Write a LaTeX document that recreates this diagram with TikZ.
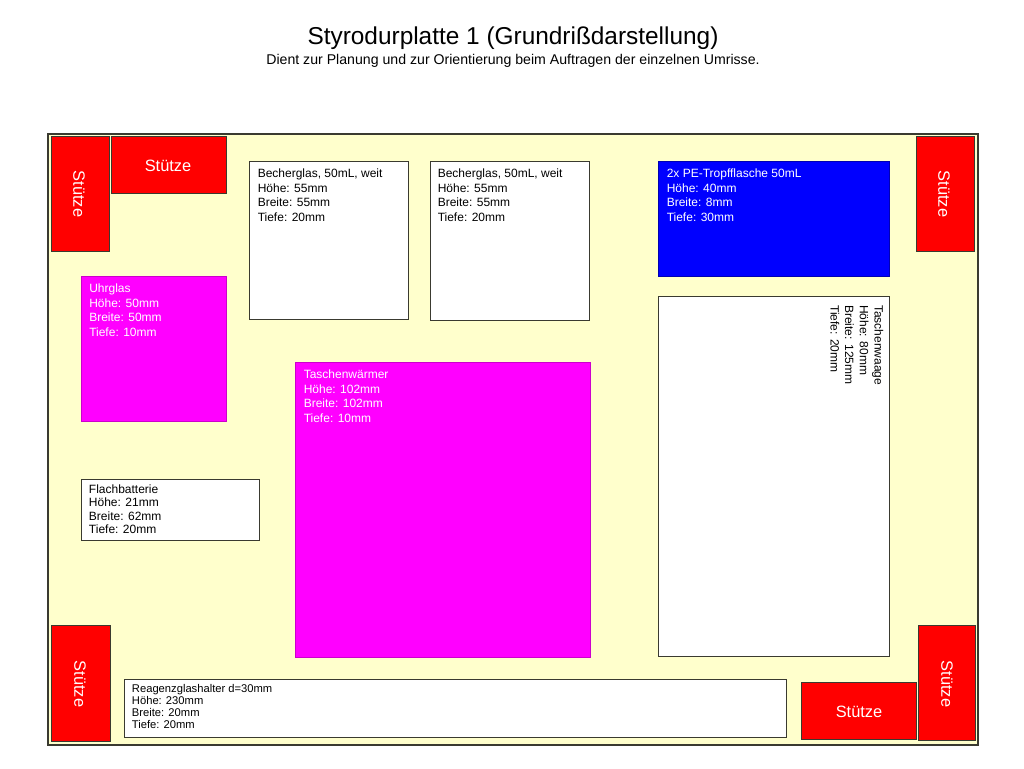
\documentclass[tikz,border=0pt]{standalone}
\usepackage{fontspec}
\setmainfont{Liberation Sans}
\definecolor{plattegelb}{HTML}{FFFFCC}
\definecolor{randgrau}{HTML}{3A3A30}
\definecolor{lilafarbe}{HTML}{FF00FF}
\tikzset{
 platte/.style={draw=randgrau,line width=0.8pt,fill=plattegelb},
 stuetze/.style={draw=randgrau,line width=0.7pt,fill=red},
 weiss/.style={draw=randgrau,line width=0.7pt,fill=white},
 lila/.style={draw=lilafarbe!80!black,line width=0.6pt,fill=lilafarbe},
 blau/.style={draw=blue!70!black,line width=0.6pt,fill=blue},
 stext/.style={text=white,font=\fontsize{12.3}{14}\selectfont},
 info/.style={anchor=north west,inner sep=0pt,align=left,font=\fontsize{9}{11}\selectfont},
 infoklein/.style={anchor=north west,inner sep=0pt,align=left,font=\fontsize{8.4}{9.1}\selectfont}
}
\begin{document}
\begin{tikzpicture}[x=0.75pt,y=-0.75pt]
 \useasboundingbox (0,0) rectangle (1024,768);
 \node[font=\fontsize{18.3}{21}\selectfont] (titel) at (513,38.5) {Styrodurplatte 1 (Grundrißdarstellung)};
 \node[font=\fontsize{10.6}{12}\selectfont] (untertitel) at (513,60.5) {Dient zur Planung und zur Orientierung beim Auftragen der einzelnen Umrisse.};
 \draw[platte] (48,134) rectangle (978,745);
 % stuetzen
 \draw[stuetze] (51,136) rectangle (109,251);
 \node[stext,rotate=-90] (st1) at (79,194) {Stütze};
 \draw[stuetze] (111,136) rectangle (226,193.5);
 \node[stext] (st2) at (168,165.5) {Stütze};
 \draw[stuetze] (916,136) rectangle (974,251);
 \node[stext,rotate=-90] (st3) at (944,194) {Stütze};
 \draw[stuetze] (51.7,625.5) rectangle (110,741);
 \node[stext,rotate=-90] (st4) at (80,684) {Stütze};
 \draw[stuetze] (801.3,682) rectangle (916.7,739.5);
 \node[stext] (st5) at (859,712) {Stütze};
 \draw[stuetze] (918,625) rectangle (975.7,740.5);
 \node[stext,rotate=-90] (st6) at (947,684) {Stütze};
 % gefaesse
 \draw[weiss] (249.7,161) rectangle (408,319.7);
 \node[info] (becher1) at (257.5,168.5) {Becherglas, 50mL, weit\\Höhe: 55mm\\Breite: 55mm\\Tiefe: 20mm};
 \draw[weiss] (430,161.5) rectangle (589,320);
 \node[info] (becher2) at (437.5,168.5) {Becherglas, 50mL, weit\\Höhe: 55mm\\Breite: 55mm\\Tiefe: 20mm};
 \draw[blau] (658.7,161) rectangle (889,276.7);
 \node[info,text=white] (tropf) at (666.5,168.5) {2x PE-Tropfflasche 50mL\\Höhe: 40mm\\Breite: 8mm\\Tiefe: 30mm};
 \draw[weiss] (658.7,296.7) rectangle (889,656.5);
 \node[info,rotate=-90] (waage) at (883.5,305) {Taschenwaage\\Höhe: 80mm\\Breite: 125mm\\Tiefe: 20mm};
 \draw[lila] (81.3,276.7) rectangle (226.7,421.5);
 \node[info,text=white] (uhrglas) at (89,283.5) {Uhrglas\\Höhe: 50mm\\Breite: 50mm\\Tiefe: 10mm};
 \draw[lila] (295.5,362.3) rectangle (590.5,657);
 \node[info,text=white] (waermer) at (303.5,369.5) {Taschenwärmer\\Höhe: 102mm\\Breite: 102mm\\Tiefe: 10mm};
 \draw[weiss] (81,479) rectangle (259.5,540);
 \node[info,font=\fontsize{9}{10}\selectfont] (batterie) at (88.7,484.5) {Flachbatterie\\Höhe: 21mm\\Breite: 62mm\\Tiefe: 20mm};
 \draw[weiss] (124.3,679.3) rectangle (786.5,737);
 \node[infoklein] (halter) at (131.7,684) {Reagenzglashalter d=30mm\\Höhe: 230mm\\Breite: 20mm\\Tiefe: 20mm};
\end{tikzpicture}
\end{document}
